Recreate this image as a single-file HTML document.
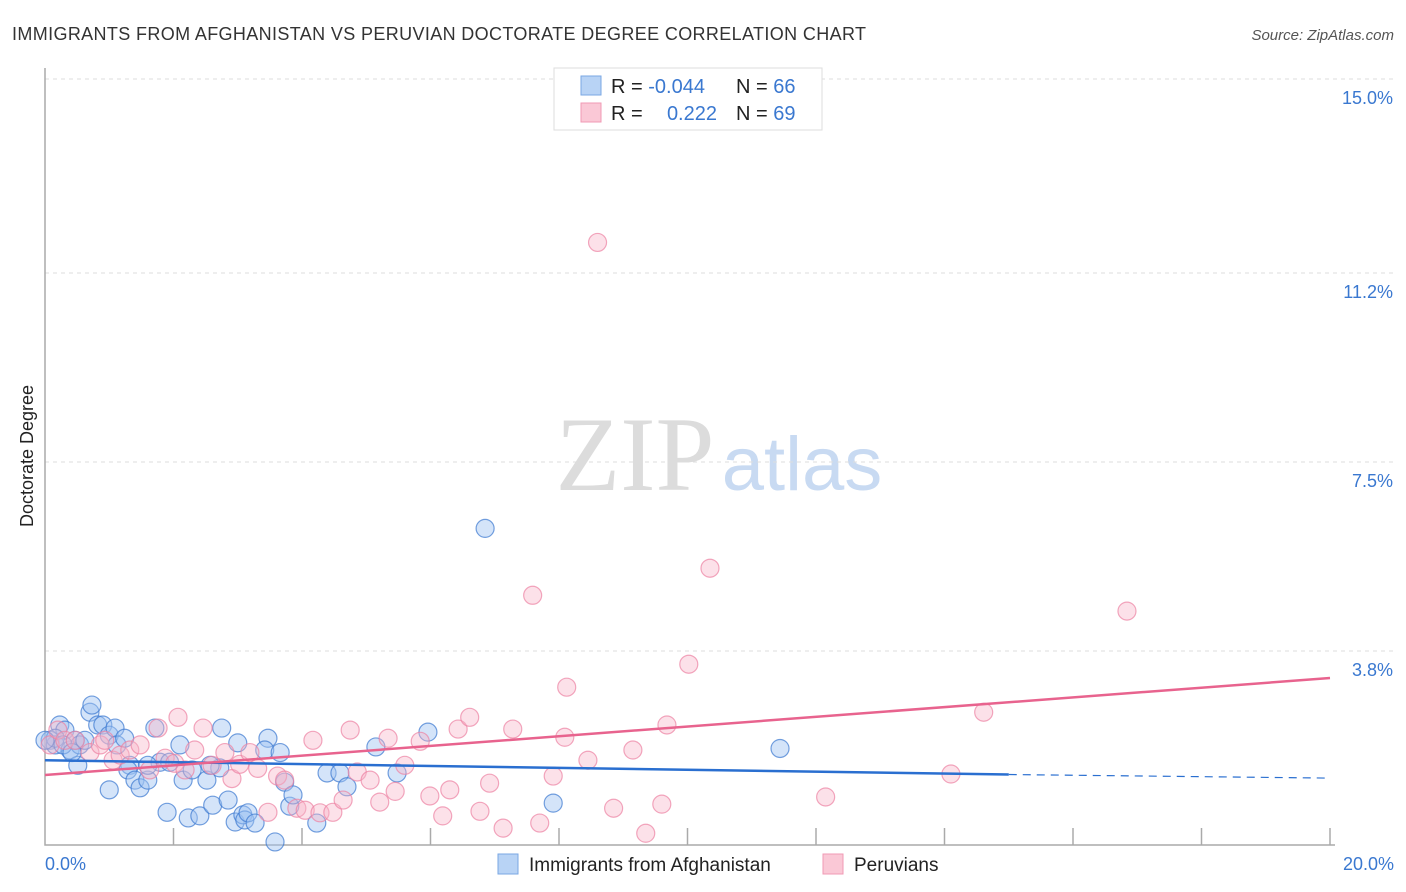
<!DOCTYPE html>
<html><head><meta charset="utf-8"><style>
body{margin:0;background:#fff;font-family:"Liberation Sans",sans-serif;}
#c{position:absolute;left:0;top:0;width:1406px;height:892px;}
</style></head><body>
<svg id="c" width="1406" height="892" xmlns="http://www.w3.org/2000/svg">
<text x="12" y="40" font-size="18" fill="#333" textLength="854">IMMIGRANTS FROM AFGHANISTAN VS PERUVIAN DOCTORATE DEGREE CORRELATION CHART</text>
<text x="1394" y="40" font-size="15" fill="#555" font-style="italic" text-anchor="end">Source: ZipAtlas.com</text>
<text x="33" y="456" font-size="18" fill="#222" text-anchor="middle" transform="rotate(-90 33 456)">Doctorate Degree</text>
<g>
<text x="635" y="490" font-size="106" fill="#dcdcdc" font-family="Liberation Serif,serif" text-anchor="middle">ZIP</text>
<text x="802" y="490" font-size="76" fill="#c8daf2" text-anchor="middle">atlas</text>
</g>
<g id="grid"></g><g id="pts"></g><g id="lines"></g>
<g>
<rect x="554" y="68" width="268" height="62" fill="#fff" stroke="#ddd"/>
<rect x="581" y="76" width="20" height="19" fill="#b8d3f5" stroke="#7aa7e3"/>
<rect x="581" y="103" width="20" height="19" fill="#fac8d6" stroke="#f09ab4"/>
<text x="611" y="93" font-size="20" fill="#222">R = <tspan fill="#3a78d0">-0.044</tspan></text>
<text x="736" y="93" font-size="20" fill="#222">N = <tspan fill="#3a78d0">66</tspan></text>
<text x="611" y="120" font-size="20" fill="#222">R = </text>
<text x="717" y="120" font-size="20" fill="#3a78d0" text-anchor="end">0.222</text>
<text x="736" y="120" font-size="20" fill="#222">N = <tspan fill="#3a78d0">69</tspan></text>
</g>
<g>
<rect x="498" y="854" width="20" height="20" fill="#b8d3f5" stroke="#7aa7e3"/>
<text x="529" y="871" font-size="19" fill="#222">Immigrants from Afghanistan</text>
<rect x="823" y="854" width="20" height="20" fill="#fac8d6" stroke="#f09ab4"/>
<text x="854" y="871" font-size="19" fill="#222">Peruvians</text>
</g>
<text x="45" y="870" font-size="18" fill="#3a78d0">0.0%</text>
<text x="1394" y="870" font-size="18" fill="#3a78d0" text-anchor="end">20.0%</text>
</svg>
<script>
const yTicks=[15.0,11.2,7.5,3.8];
const yTickLabels=["15.0%","11.2%","7.5%","3.8%"];
const blueX=[0.08,0.16,0.23,0.31,0.39,0.47,0.54,0.62,0.7,0.73,0.51,0.82,0.9,1.0,1.09,1.12,1.24,1.32,1.0,1.29,1.4,1.48,1.6,1.71,1.79,1.9,2.1,2.15,2.23,2.29,2.41,2.52,2.61,2.72,2.75,2.85,2.96,3.0,3.08,3.11,3.16,3.27,3.47,3.42,3.58,3.66,3.73,3.81,3.86,4.23,4.39,4.59,4.7,5.15,5.48,5.96,6.85,7.91,11.44,0.16,0.28,0.42,0.0,2.57,1.6,1.94];
const blueY=[2.05,1.96,2.35,2.25,1.86,2.05,1.96,2.05,2.6,2.74,1.56,2.35,2.35,2.15,2.29,1.96,2.09,1.56,1.08,1.47,1.27,1.12,1.27,2.29,1.62,0.64,1.96,1.27,0.53,1.47,0.57,1.27,0.78,1.51,2.29,0.88,0.45,2.0,0.59,0.49,0.63,0.43,2.09,1.86,0.06,1.81,1.23,0.76,0.98,0.43,1.41,1.41,1.14,1.92,1.41,2.21,6.2,0.82,1.89,2.09,1.96,1.81,2.05,1.56,1.56,1.62];
const pinkX=[0.08,0.2,0.31,0.47,0.7,0.86,0.93,1.06,1.17,1.32,1.48,1.63,1.76,1.87,2.02,2.07,2.18,2.33,2.46,2.6,2.8,2.91,3.03,3.19,3.31,3.47,3.62,3.73,3.92,4.05,4.17,4.28,4.48,4.64,4.75,4.86,5.06,5.21,5.34,5.45,5.6,5.84,5.99,6.19,6.3,6.43,6.61,6.77,6.92,7.13,7.28,7.59,7.7,7.91,8.09,8.12,8.45,8.6,8.85,9.15,9.35,9.6,9.68,10.02,10.35,12.15,14.1,14.61,16.84];
const pinkY=[1.96,2.25,2.05,2.05,1.81,1.96,2.05,1.66,1.76,1.86,1.96,1.47,2.29,1.7,1.6,2.5,1.47,1.86,2.29,1.56,1.81,1.3,1.58,1.81,1.5,0.64,1.35,1.27,0.72,0.68,2.05,0.63,0.64,0.88,2.25,1.43,1.27,0.84,2.09,1.05,1.56,2.03,0.96,0.57,1.08,2.27,2.5,0.66,1.21,0.33,2.27,4.89,0.43,1.35,2.11,3.09,1.66,11.8,0.72,1.86,0.23,0.8,2.35,3.54,5.42,0.94,1.39,2.6,4.58];
const blueTrend=[1.66,1.38,1.31];const blueTrendX=[0,15,20];
const pinkTrend=[1.37,3.27];const pinkTrendX=[0,20];
const NS="http://www.w3.org/2000/svg";
const X0=45,X1=1330,Y0=845,Y15=79;
function sx(v){return X0+v/20*(X1-X0);}
function sy(v){return Y0-v/15*(Y0-Y15);}
function mk(t,a,p){const e=document.createElementNS(NS,t);for(const k in a)e.setAttribute(k,a[k]);p.appendChild(e);return e;}
const grid=document.getElementById('grid');
yTicks.forEach((t,i)=>{
 const l=mk('line',{x1:X0,x2:1395,y1:sy(t),y2:sy(t),stroke:'#ddd','stroke-dasharray':'4,4'},grid);
 
 
 const tx=mk('text',{x:1393,y:sy(t)+25,'font-size':18,fill:'#3a78d0','text-anchor':'end'},grid);
 tx.textContent=yTickLabels[i];
 
 
});
const ax=mk('path',{d:`M${X0} 68V${Y0}H${X1+5}`,stroke:'#aaa',fill:'none','stroke-width':1.5},grid);


for(let i=1;i<=10;i++){
 const tk=mk('line',{x1:sx(i*2),x2:sx(i*2),y1:Y0-17,y2:Y0,stroke:'#aaa','stroke-width':1.5},grid);
 
 
}
const pts=document.getElementById('pts');
blueX.forEach((x,i)=>{
 const c=mk('circle',{cx:sx(x),cy:sy(blueY[i]),r:9,fill:'rgba(160,196,242,0.45)',stroke:'rgba(58,120,208,0.7)','stroke-width':1.2},pts);
 
 
});
pinkX.forEach((x,i)=>{
 const c=mk('circle',{cx:sx(x),cy:sy(pinkY[i]),r:9,fill:'rgba(248,180,200,0.4)',stroke:'rgba(236,130,162,0.7)','stroke-width':1.2},pts);
 
 
});
const lines=document.getElementById('lines');
let b=mk('line',{x1:sx(blueTrendX[0]),y1:sy(blueTrend[0]),x2:sx(blueTrendX[1]),y2:sy(blueTrend[1]),stroke:'#2a6fd0','stroke-width':2.5},lines);


b=mk('line',{x1:sx(blueTrendX[1]),y1:sy(blueTrend[1]),x2:sx(blueTrendX[2]),y2:sy(blueTrend[2]),stroke:'#2a6fd0','stroke-width':1.2,'stroke-dasharray':'8,6'},lines);


const p=mk('line',{x1:sx(pinkTrendX[0]),y1:sy(pinkTrend[0]),x2:sx(pinkTrendX[1]),y2:sy(pinkTrend[1]),stroke:'#e8638e','stroke-width':2.5},lines);


</script>
</body></html>
